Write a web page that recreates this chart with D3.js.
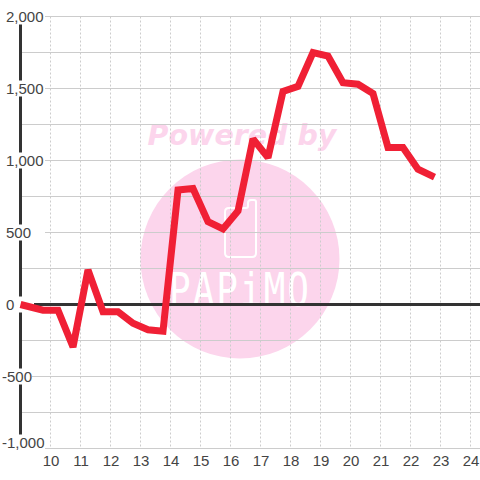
<!DOCTYPE html>
<html>
<head>
<meta charset="utf-8">
<script src="https://cdnjs.cloudflare.com/ajax/libs/d3/7.8.5/d3.min.js"></script>
<style>
html, body { margin: 0; padding: 0; background: #fff; }
text { font-family: "Liberation Sans", sans-serif; }
</style>
</head>
<body>
<div id="chart"></div>
<script>
const hours = [9, 9.75, 10.25, 10.75, 11.25, 11.75, 12.25, 12.75, 13.25, 13.75, 14.25, 14.75, 15.25, 15.75,
  16.25, 16.75, 17.25, 17.75, 18.25, 18.75, 19.25, 19.75, 20.25, 20.75, 21.25, 21.75, 22.25, 22.8];
const values = [0, -40, -40, -295, 240, -50, -50, -130, -175, -185, 795, 805, 575, 525,
  650, 1150, 1020, 1480, 1515, 1750, 1725, 1540, 1530, 1465, 1090, 1090, 940, 885];
const xTicks = [10, 11, 12, 13, 14, 15, 16, 17, 18, 19, 20, 21, 22, 23, 24];
const yLabels = [2000, 1500, 1000, 500, 0, -500, -1000];
const yGrid = [2000, 1750, 1500, 1250, 1000, 750, 500, 250, -250, -500, -750, -1000];

const width = 480, height = 480;
const svg = d3.select("#chart").append("svg")
  .attr("width", width)
  .attr("height", height)
  .style("display", "block");

const x = d3.scaleLinear().domain([9, 24]).range([20.5, 470.5]);
const y = d3.scaleLinear().domain([-1000, 2000]).range([448.5, 16.5]);

// watermark sits under the grid
const mark = svg.append("g");
mark.append("circle").attr("cx", 240).attr("cy", 259).attr("r", 99.5).attr("fill", "#fcd5ec");
mark.append("text")
  .attr("x", 242).attr("y", 145)
  .attr("text-anchor", "middle")
  .style("font-family", "DejaVu Sans")
  .style("font-weight", "bold")
  .style("font-style", "italic")
  .style("font-size", "28.5px")
  .attr("fill", "#fcd5ec")
  .text("Powered by");
mark.append("path")
  .attr("d", "M229,208 H246 Q248,208 248,206 V203 Q248,200 251,200 H254 Q256,200 256,202 V253 Q256,257 252,257 H229 Q225,257 225,253 V212 Q225,208 229,208 Z")
  .attr("fill", "none").attr("stroke", "#fff").attr("stroke-width", 2);
mark.append("text")
  .attr("transform", "translate(240,306) scale(1,1.27)")
  .attr("text-anchor", "middle")
  .style("font-family", "DejaVu Sans Mono")
  .style("font-size", "36px")
  .style("letter-spacing", "2px")
  .attr("fill", "#fff")
  .text("PAPiMO");

// grid
const grid = svg.append("g");
grid.selectAll("line.v").data(xTicks).join("line")
  .attr("class", "v")
  .attr("x1", d => x(d)).attr("x2", d => x(d))
  .attr("y1", y(2000)).attr("y2", y(-1000))
  .attr("stroke", "#ccc")
  .attr("stroke-dasharray", "2,2");
grid.selectAll("line.h").data(yGrid).join("line")
  .attr("class", "h")
  .attr("x1", 20).attr("x2", width)
  .attr("y1", d => y(d)).attr("y2", d => y(d))
  .attr("stroke", "#ccc");

// axis lines
svg.append("line")
  .attr("x1", x(9)).attr("x2", x(9))
  .attr("y1", y(2000)).attr("y2", y(-1000))
  .attr("stroke", "#333").attr("stroke-width", 3);
svg.append("line")
  .attr("x1", 20).attr("x2", width)
  .attr("y1", y(0)).attr("y2", y(0))
  .attr("stroke", "#333").attr("stroke-width", 3);

// y labels have a white box behind them, which cuts the axis line
const fmt = d3.format(",");
const yLab = svg.append("g").selectAll("g").data(yLabels).join("g")
  .attr("transform", d => `translate(0,${d === -1000 ? y(d) - 6 : y(d)})`);
yLab.append("rect")
  .attr("x", 0).attr("y", -8)
  .attr("width", d => d === 0 ? 34 : d === -500 ? 32 : 45)
  .attr("height", 16)
  .attr("fill", "#fff");
yLab.append("text")
  .attr("x", d => d < 0 ? 2 : 6)
  .attr("y", 5.5)
  .attr("font-size", 15)
  .attr("fill", "#444")
  .text(d => fmt(d).replace("−", "-"));

const xAxis = d3.axisBottom(x).tickValues(xTicks).tickSize(0).tickPadding(0).tickFormat(d3.format("d"));
const xG = svg.append("g")
  .attr("transform", "translate(0,452)")
  .call(xAxis);
xG.select(".domain").remove();
xG.selectAll("text")
  .attr("y", 3)
  .attr("dy", "0.71em")
  .style("font-family", "Liberation Sans")
  .style("font-size", "15px")
  .attr("fill", "#444");

const line = d3.line().x((d, i) => x(hours[i])).y(d => y(d));
svg.append("path")
  .datum(values)
  .attr("d", line)
  .attr("fill", "none")
  .attr("stroke", "#f02035")
  .attr("stroke-width", 7)
  .attr("stroke-linejoin", "miter")
  .attr("stroke-miterlimit", 2);
</script>
</body>
</html>
